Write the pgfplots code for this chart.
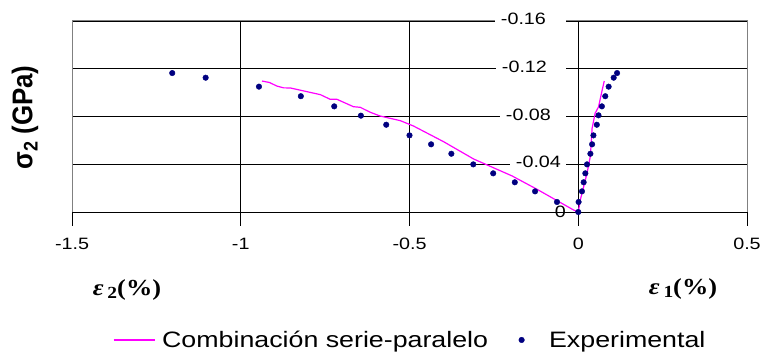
\documentclass[border=0pt]{standalone}
\usepackage{graphicx}
\usepackage{pgfplots}
\pgfplotsset{compat=1.18}
\usepackage{fontspec}
\setmainfont{Liberation Sans}[FakeStretch=1.2]
\newfontfamily\ylabfont{Liberation Sans}
\newfontfamily\serifb{Liberation Serif}[FakeStretch=1.15]
\definecolor{navy}{RGB}{0,0,128}
\definecolor{framegray}{RGB}{128,128,128}
\definecolor{magentaline}{RGB}{255,0,255}
\setlength{\fboxsep}{0pt}
\newcommand{\tl}[2]{\colorbox{white}{\hspace{6bp}\strut#1\hspace{#2}}}
\begin{document}
\begin{tikzpicture}
\begin{axis}[at={(72bp,146bp)}, anchor=south west, scale only axis,
  width=675bp, height=191bp,
  xmin=-1.5, xmax=0.5, ymin=-0.16, ymax=0, y dir=reverse,
  xtick={-1.5,-1,-0.5,0,0.5}, ytick={-0.16,-0.12,-0.08,-0.04,0},
  xticklabels={}, yticklabels={}, major tick length=0pt,
  grid=major, grid style={black, line width=0.8bp},
  axis line style={framegray, line width=1bp}]
\addplot[draw=none] coordinates {(0,0)};
\end{axis}
\begin{axis}[at={(72bp,146bp)}, anchor=south west, scale only axis,
  width=675bp, height=191bp,
  xmin=-1.5, xmax=0.5, ymin=-0.16, ymax=0, y dir=reverse,
  axis x line=middle, axis y line=middle,
  axis line style={black, line width=0.8bp, -},
  hide obscured x ticks=false, hide obscured y ticks=false,
  tick align=center,
  xtick style={black, line width=0.8bp, /pgfplots/major tick length=14bp, yshift=-7bp},
  ytick style={black, line width=0.8bp, /pgfplots/major tick length=20bp, xshift=-10bp},
  xtick={-1.5,-1,-0.5,0,0.5}, xticklabels={-1.5,-1,-0.5,0,0.5},
  ytick={-0.16,-0.12,-0.08,-0.04,0},
  yticklabels={\tl{-0.16}{20bp},\tl{-0.12}{19bp},\tl{-0.08}{15bp},\tl{-0.04}{5bp},{0\hspace{13bp}}},
  ticklabel style={font=\fontsize{16.5}{18}\selectfont},
  yticklabel style={anchor=east, inner sep=0pt, xshift=-10bp},
  xticklabel style={anchor=base, inner sep=0pt, yshift=-35bp},
  legend style={at={(axis description cs:0.501,-0.67)}, anchor=center, draw=none, fill=none,
    legend columns=2, font=\fontsize{22.4}{25}\selectfont,
    /tikz/every odd column/.append style={column sep=5bp},
    /tikz/every even column/.append style={column sep=11bp}},
  legend image code/.code={\path[draw=none,fill=none] (0bp,-3bp) rectangle (41bp,3bp);
    \draw[mark repeat=2,mark phase=2,#1] plot coordinates {(0bp,0bp) (20.5bp,0bp) (41bp,0bp)};}
  ]
\addplot[color=magentaline, line width=1.2bp, no marks] coordinates {
(-0.937,-0.1097) (-0.915,-0.1085) (-0.893,-0.1055) (-0.873,-0.1040) (-0.853,-0.1039)
(-0.764,-0.0983) (-0.735,-0.0944) (-0.715,-0.0944) (-0.666,-0.0882) (-0.646,-0.0877)
(-0.616,-0.0835) (-0.587,-0.0804) (-0.527,-0.0765) (-0.488,-0.0720) (-0.399,-0.0589)
(-0.310,-0.0444) (-0.196,-0.0302) (-0.122,-0.0190) (-0.014,-0.0017) (0,0)
(0.006,-0.010) (0.026,-0.0324) (0.036,-0.0470) (0.041,-0.0700) (0.050,-0.0827)
(0.060,-0.0880) (0.070,-0.1010) (0.077,-0.1097)};
\addlegendentry{Combinación serie-paralelo}
\addplot[only marks, mark=*, mark size=2.8bp, color=navy] coordinates {
(-1.203,-0.1164) (-1.104,-0.1125) (-0.946,-0.1050) (-0.822,-0.0970) (-0.723,-0.0885)
(-0.644,-0.0807) (-0.569,-0.0731) (-0.500,-0.0642) (-0.436,-0.0567) (-0.376,-0.0488)
(-0.311,-0.0399) (-0.252,-0.0324) (-0.188,-0.0249) (-0.128,-0.0173) (-0.063,-0.0084)
(0,0) (0.001,-0.0084) (0.011,-0.0173) (0.016,-0.0249) (0.021,-0.0324) (0.026,-0.0399)
(0.036,-0.0488) (0.041,-0.0567) (0.045,-0.0642) (0.055,-0.0731) (0.060,-0.0810)
(0.070,-0.0885) (0.080,-0.0970) (0.090,-0.1050) (0.105,-0.1125) (0.115,-0.1164)};
\addlegendentry{Experimental}
\end{axis}
\node[font=\serifb\bfseries\fontsize{23}{25}\selectfont] at (127bp,68bp)
  {\itshape ε\,\raisebox{-0.3ex}{\upshape\fontsize{17}{17}\selectfont 2}\upshape(\%)};
\node[font=\serifb\bfseries\fontsize{23}{25}\selectfont] at (683bp,69bp)
  {\itshape ε\,\raisebox{-0.3ex}{\upshape\fontsize{17}{17}\selectfont 1}\upshape(\%)};
\node[rotate=90, font=\ylabfont\bfseries\fontsize{26}{28}\selectfont] at (25bp,240.5bp)
  {\scalebox{1}[1.1]{σ\raisebox{-0.35ex}{\fontsize{18}{18}\selectfont 2} (GPa)}};
\pgfresetboundingbox
\path[use as bounding box] (0,0) rectangle (763bp,358bp);
\end{tikzpicture}
\end{document}
